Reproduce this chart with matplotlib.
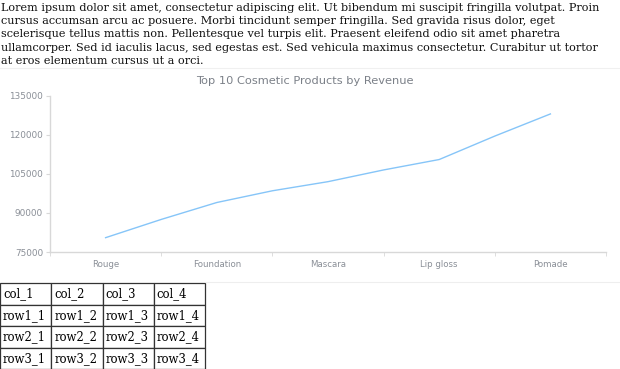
import matplotlib
matplotlib.use('Agg')
import matplotlib.pyplot as plt

# paragraph above the chart
para = [
    "Lorem ipsum dolor sit amet, consectetur adipiscing elit. Ut bibendum mi suscipit fringilla volutpat. Proin",
    "cursus accumsan arcu ac posuere. Morbi tincidunt semper fringilla. Sed gravida risus dolor, eget",
    "scelerisque tellus mattis non. Pellentesque vel turpis elit. Praesent eleifend odio sit amet pharetra",
    "ullamcorper. Sed id iaculis lacus, sed egestas est. Sed vehicula maximus consectetur. Curabitur ut tortor",
    "at eros elementum cursus ut a orci.",
]

# chart data
labels = ['Rouge', 'Foundation', 'Mascara', 'Lip gloss', 'Pomade']
revenue = [80500, 87500, 94000, 98500, 102000, 106500, 110500, 119500, 128000]
yticks = [75000, 90000, 105000, 120000, 135000]

# table below the chart
header = ['col_1', 'col_2', 'col_3', 'col_4']
rows = [['row1_1', 'row1_2', 'row1_3', 'row1_4'],
        ['row2_1', 'row2_2', 'row2_3', 'row2_4'],
        ['row3_1', 'row3_2', 'row3_3', 'row3_4']]

W, H = 620, 369
fig = plt.figure(figsize=(W/100, H/100), dpi=100)

def px(x, y):
    return x / W, 1 - y / H

for i, line in enumerate(para):
    fig.text(*px(1, 7.6 + i*13.4), line, family='DejaVu Serif', fontsize=8.15,
             va='center', ha='left', color='#111111')

# faint separators of the chart container
fig.add_artist(plt.Line2D([0, 1], [1-67.5/H, 1-67.5/H], color='#f0f0f0', lw=0.8))
fig.add_artist(plt.Line2D([205/W, 1], [1-282/H, 1-282/H], color='#eeeeee', lw=0.8))

fig.text(*px(305, 81), 'Top 10 Cosmetic Products by Revenue', ha='center', va='center',
         fontsize=8.2, color='#7b8088', family='DejaVu Sans')

ax = fig.add_axes([50/W, 1-252/H, (606-50)/W, (252-95.7)/H])
x = list(range(len(revenue)))
ax.plot(x, revenue, color='#86c5f8', lw=1.0)
ax.set_xlim(-1, 9)
ax.set_ylim(75000, 135000)
ax.set_yticks(yticks)
ax.set_yticklabels([str(v) for v in yticks])
ax.set_xticks([0, 2, 4, 6, 8])
ax.set_xticklabels(labels)
ax.set_xticks([-1, 1, 3, 5, 7, 9], minor=True)
for s in ['top', 'right']:
    ax.spines[s].set_visible(False)
for s in ['left', 'bottom']:
    ax.spines[s].set_color('#d8d8d8')
    ax.spines[s].set_linewidth(1.0)
ax.tick_params(axis='y', length=3, color='#d8d8d8', labelsize=6.4, labelcolor='#8a8f97', pad=2)
ax.tick_params(axis='x', which='major', length=0, labelsize=6.2, labelcolor='#8a8f97', pad=6)
ax.tick_params(axis='x', which='minor', length=3, color='#d8d8d8')

# html-like table
tax = fig.add_axes([0, 0, 205/W, (369-283)/H])
tax.set_axis_off()
tbl = tax.table(cellText=[header] + rows, cellLoc='left', bbox=[0, 0, 1, 1])
tbl.auto_set_font_size(False)
for (r, c), cell in tbl.get_celld().items():
    cell.set_edgecolor('#333333')
    cell.set_linewidth(0.9)
    cell.PAD = 0.06
    cell.get_text().set_fontsize(8.4)
    cell.get_text().set_family('DejaVu Serif')

fig.savefig('out.png', dpi=100)
